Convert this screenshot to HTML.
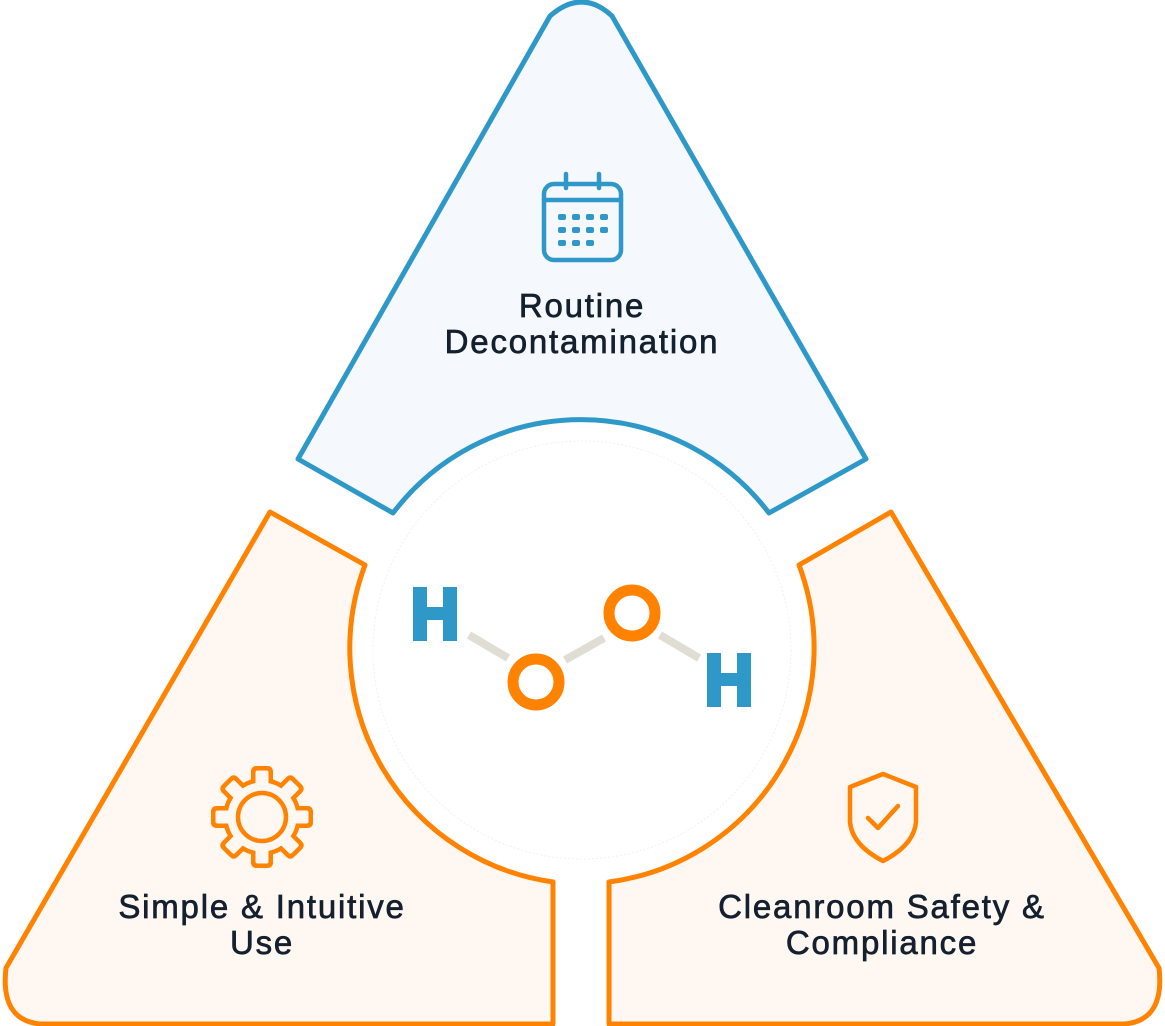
<!DOCTYPE html>
<html><head><meta charset="utf-8"><style>
html,body{margin:0;padding:0;background:#fff;}
svg{display:block}
text{font-family:"Liberation Sans",sans-serif;fill:#14202e;stroke:#14202e;stroke-width:0.7px;font-size:33px;letter-spacing:1.8px}
</style></head><body>
<svg width="1165" height="1026" viewBox="0 0 1165 1026" xmlns="http://www.w3.org/2000/svg">
<path d="M550,16 Q582,-12 612,16 L866,459 L769,513 A236,236 0 0 0 393,513 L298,459 Z" fill="#f5f9fd" stroke="#2e98c9" stroke-width="5" stroke-linejoin="round"/>
<path d="M270,512 L365,565 A236,236 0 0 0 553,882 L553,1024 L40,1024 Q0,1020 6,968 Z" fill="#fff8f2" stroke="#ff8200" stroke-width="5" stroke-linejoin="round"/>
<path d="M891,512 L799,565 A236,236 0 0 1 609,882 L609,1024 L1125,1024 Q1165,1020 1159,968 Z" fill="#fff8f2" stroke="#ff8200" stroke-width="5" stroke-linejoin="round"/>
<circle cx="582" cy="650" r="209" fill="#fff" stroke="#f0f0f0" stroke-width="1" stroke-dasharray="2 2"/>

<g stroke="#e0ddd5" stroke-width="8">
<line x1="469" y1="635" x2="508" y2="658"/>
<line x1="565" y1="660" x2="604" y2="638"/>
<line x1="660" y1="635" x2="699" y2="658"/>
</g>
<circle cx="536" cy="682" r="23" fill="none" stroke="#ff8200" stroke-width="11"/>
<circle cx="632" cy="613" r="23" fill="none" stroke="#ff8200" stroke-width="11"/>
<g fill="#2e98c9">
<rect x="413" y="587" width="14" height="54"/><rect x="443" y="587" width="14" height="54"/><rect x="413" y="607" width="44" height="13"/>
<rect x="707" y="653" width="14" height="54"/><rect x="737" y="653" width="14" height="54"/><rect x="707" y="673" width="44" height="13"/>
</g>

<g fill="none" stroke="#2e98c9" stroke-width="4.5" stroke-linecap="round">
<rect x="544" y="184" width="77" height="76" rx="10"/>
<line x1="544" y1="200" x2="621" y2="200"/>
<line x1="566" y1="174" x2="566" y2="188"/>
<line x1="599" y1="174" x2="599" y2="188"/>
</g>
<g fill="#2e98c9">
<rect x="558" y="214" width="8" height="6" rx="2"/><rect x="572" y="214" width="8" height="6" rx="2"/><rect x="586" y="214" width="8" height="6" rx="2"/><rect x="600" y="214" width="8" height="6" rx="2"/>
<rect x="558" y="227" width="8" height="6" rx="2"/><rect x="572" y="227" width="8" height="6" rx="2"/><rect x="586" y="227" width="8" height="6" rx="2"/><rect x="600" y="227" width="8" height="6" rx="2"/>
<rect x="558" y="240" width="8" height="6" rx="2"/><rect x="572" y="240" width="8" height="6" rx="2"/><rect x="586" y="240" width="8" height="6" rx="2"/>
</g>

<g transform="translate(262,817)">
<g fill="#ff8200">
<circle r="39"/>
<rect x="-11" y="-51" width="22" height="102" rx="5"/>
<rect x="-11" y="-51" width="22" height="102" rx="5" transform="rotate(45)"/>
<rect x="-11" y="-51" width="22" height="102" rx="5" transform="rotate(90)"/>
<rect x="-11" y="-51" width="22" height="102" rx="5" transform="rotate(135)"/>
</g>
<g fill="#fff8f2">
<circle r="34.5"/>
<rect x="-6.5" y="-46.5" width="13" height="93" rx="2"/>
<rect x="-6.5" y="-46.5" width="13" height="93" rx="2" transform="rotate(45)"/>
<rect x="-6.5" y="-46.5" width="13" height="93" rx="2" transform="rotate(90)"/>
<rect x="-6.5" y="-46.5" width="13" height="93" rx="2" transform="rotate(135)"/>
</g>
<circle r="24" fill="none" stroke="#ff8200" stroke-width="4.5"/>
</g>

<g fill="none" stroke="#ff8200" stroke-width="4.5" stroke-linejoin="round" stroke-linecap="round">
<path d="M883,774 L916,787 L916,822 Q914,845 883,861 Q852,845 850,822 L850,787 Z"/>
<path d="M868,818 L878,828 L898,806"/>
</g>

<text x="582" y="317" text-anchor="middle">Routine</text>
<text x="582" y="353" text-anchor="middle">Decontamination</text>
<text x="262" y="918" text-anchor="middle">Simple &amp; Intuitive</text>
<text x="262" y="954" text-anchor="middle">Use</text>
<text x="882" y="918" text-anchor="middle">Cleanroom Safety &amp;</text>
<text x="882" y="954" text-anchor="middle">Compliance</text>
</svg>
</body></html>
